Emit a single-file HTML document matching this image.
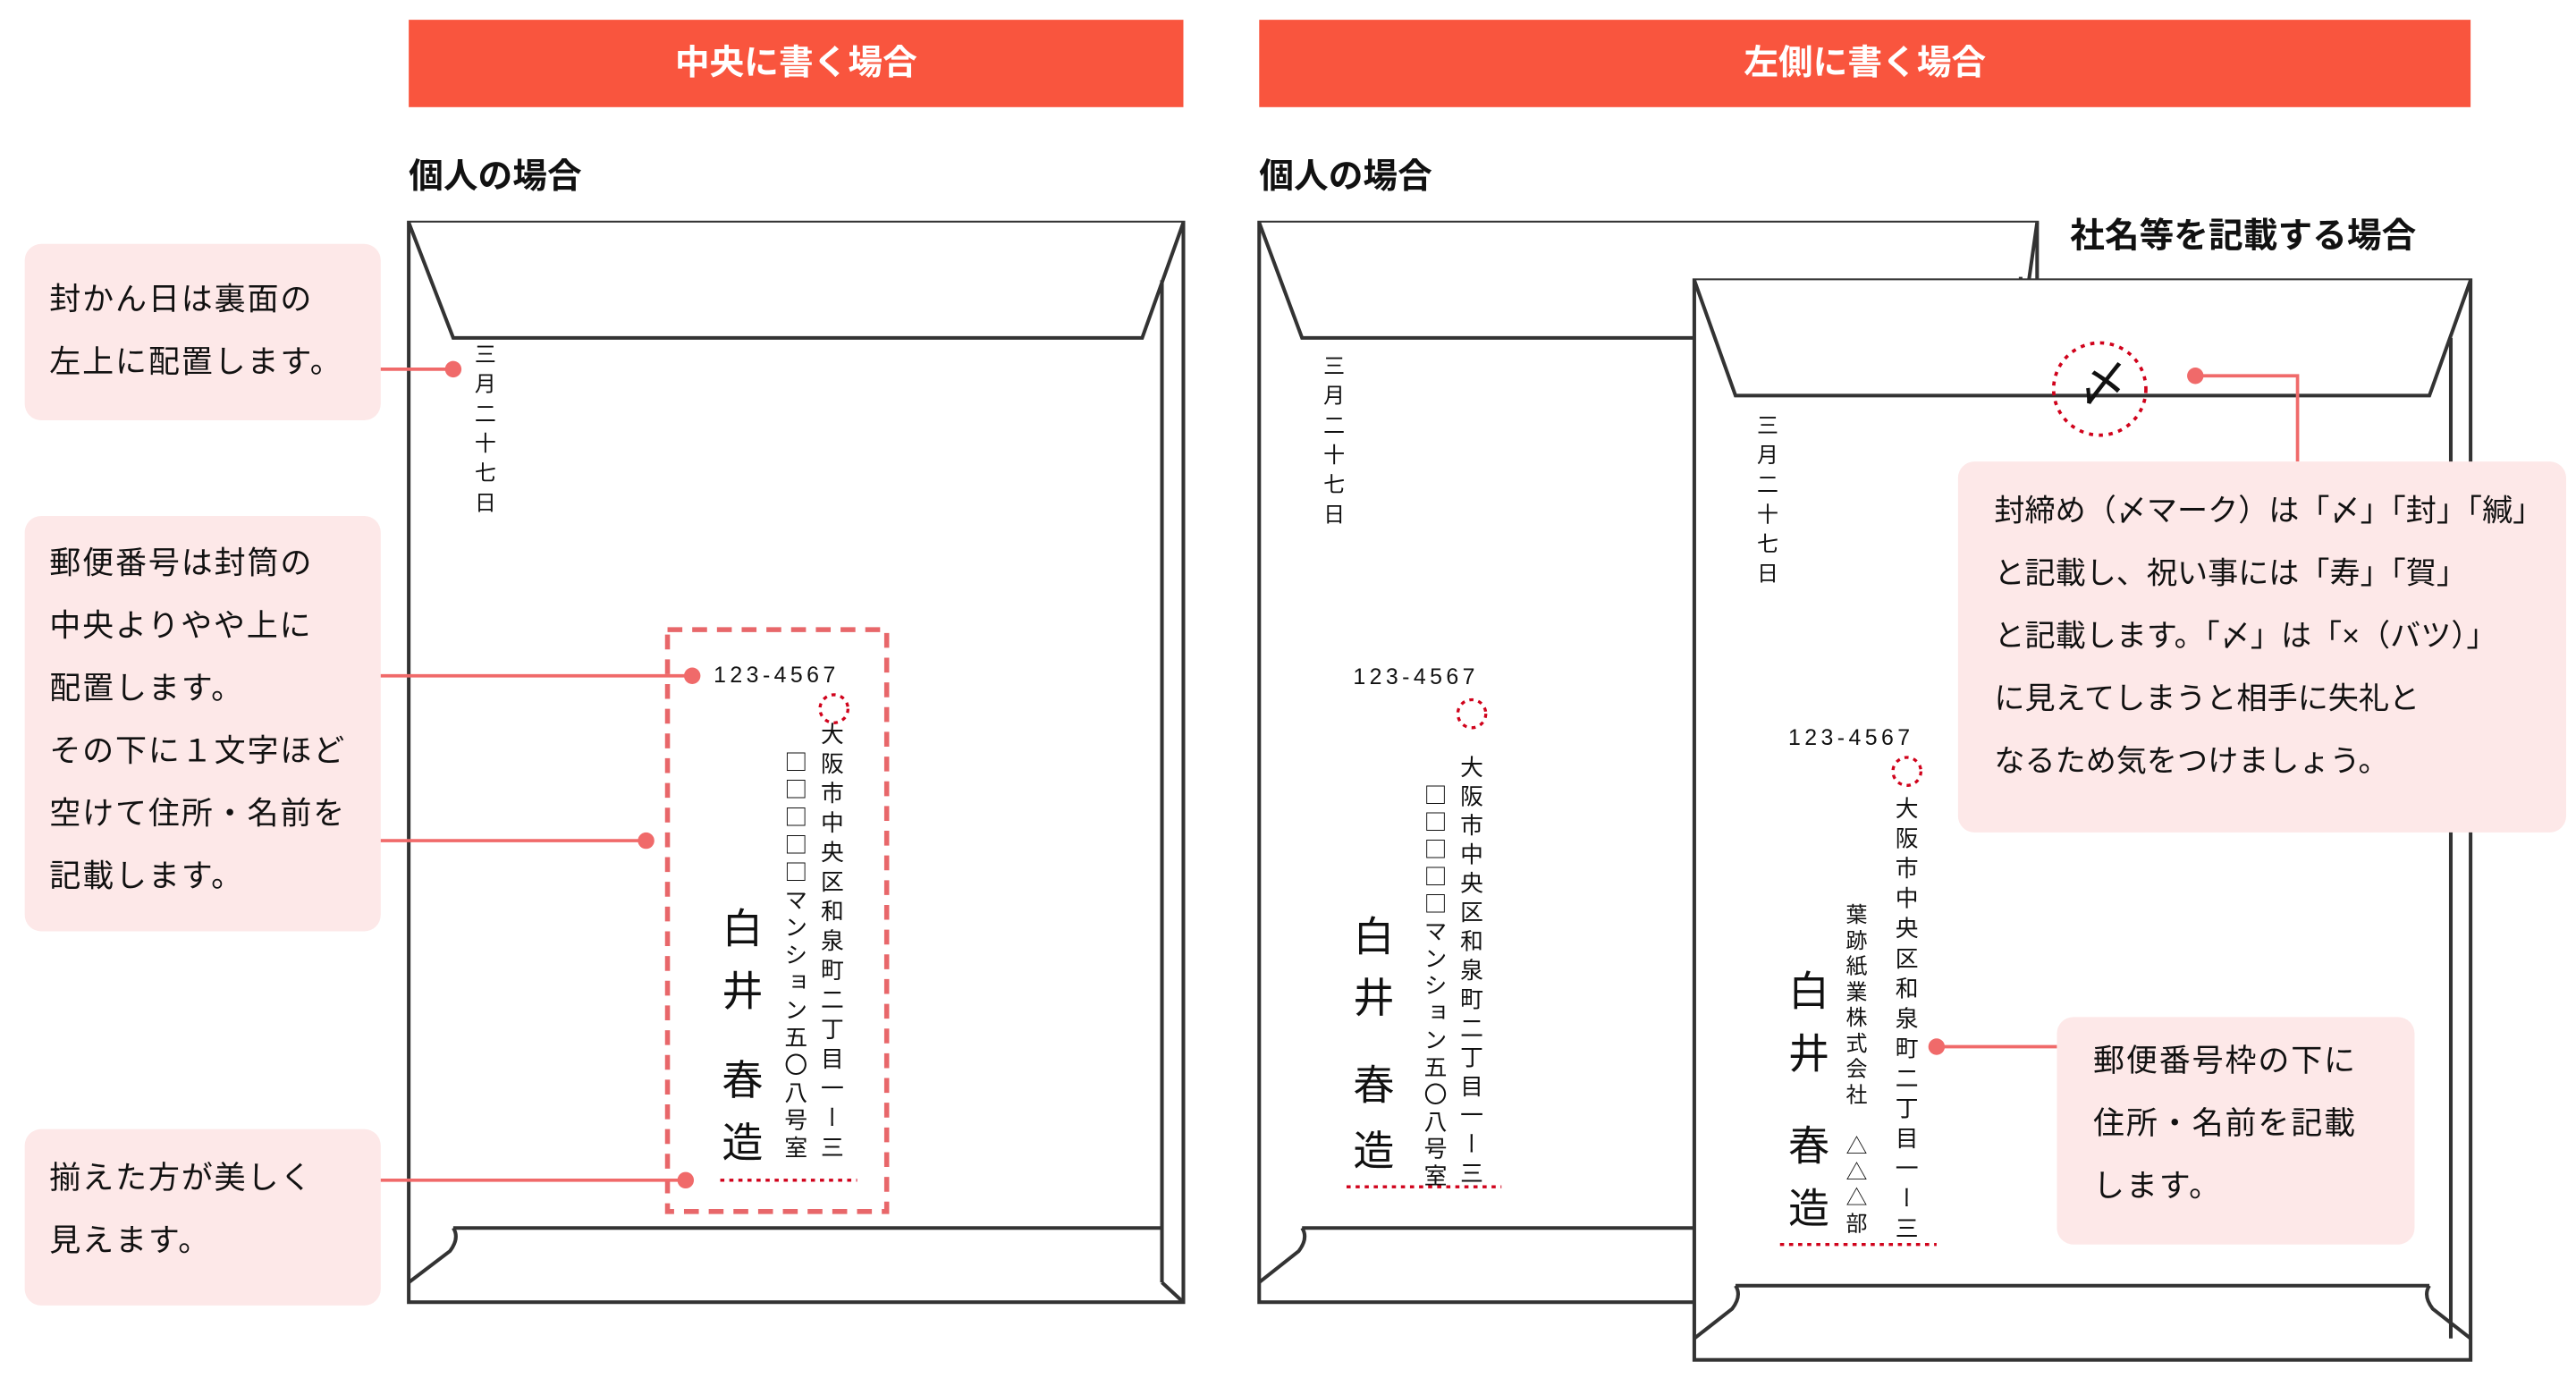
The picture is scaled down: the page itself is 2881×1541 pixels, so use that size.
<!DOCTYPE html>
<html><head><meta charset="utf-8">
<style>
html,body{margin:0;padding:0;background:#fff;}
body{width:2881px;height:1541px;overflow:hidden;position:relative;}
#w{position:absolute;left:0;top:0;width:1563px;height:836px;transform:scale(1.8433);transform-origin:0 0;font-family:"Liberation Sans","Noto Sans CJK JP",sans-serif;color:#111;}
.a{position:absolute;white-space:nowrap;}
.hd{position:absolute;background:#F9553E;color:#fff;font-weight:bold;font-size:21px;text-align:center;line-height:53px;height:53px;top:12px;}
.ttl{position:absolute;font-weight:bold;font-size:21px;line-height:24px;}
.box{position:absolute;background:#FDE8E8;border-radius:10px;}
.bt{position:absolute;font-size:19px;line-height:38px;letter-spacing:1px;white-space:nowrap;}
.v{position:absolute;writing-mode:vertical-rl;white-space:nowrap;line-height:1;font-family:"Noto Sans CJK JP",sans-serif;}
.pc{position:absolute;font-size:13.5px;letter-spacing:2.4px;line-height:1;white-space:nowrap;}
.nm{position:absolute;font-size:25px;line-height:1;}
svg{position:absolute;left:0;top:0;}
</style></head><body><div id="w">
<div class="hd" style="left:248px;width:470px;">中央に書く場合</div>
<div class="hd" style="left:764px;width:735px;">左側に書く場合</div>
<div class="ttl" style="left:248px;top:96px;">個人の場合</div>
<div class="ttl" style="left:764px;top:96px;">個人の場合</div>

<div class="box" style="left:15px;top:148px;width:216px;height:107px;"></div>
<div class="box" style="left:15px;top:313px;width:216px;height:252px;"></div>
<div class="box" style="left:15px;top:685px;width:216px;height:107px;"></div>
<div class="bt" style="left:30px;top:164px;">封かん日は裏面の<br>左上に配置します。</div>
<div class="bt" style="left:30px;top:324px;">郵便番号は封筒の<br>中央よりやや上に<br>配置します。<br>その下に１文字ほど<br>空けて住所・名前を<br>記載します。</div>
<div class="bt" style="left:30px;top:697px;">揃えた方が美しく<br>見えます。</div>

<svg width="1563" height="836" viewBox="0 0 1563 836">
<g fill="#fff" stroke="#333" stroke-width="2.2" stroke-linejoin="miter">
<rect x="248" y="135" width="470" height="655"/>
<path d="M248 135 L275 205 L693 205 L718 135" />
<path d="M705 170 L705 778" fill="none"/>
<path d="M275 745 L705 745 M275 745 q4 6 -2 14 L248 778" fill="none"/>
<path d="M705 778 L718 790" fill="none"/>
<rect x="764" y="135" width="472" height="655"/>
<path d="M764 135 L790 205 L1226 205 L1236 135" />
<path d="M1226 168 L1226 780" fill="none"/>
<path d="M790 745 L1226 745 M790 745 q4 6 -2 14 L764 778" fill="none"/>
<rect x="1028" y="170" width="471" height="655"/>
<path d="M1028 170 L1053 240 L1474 240 L1499 170" />
<path d="M1487 205 L1487 812" fill="none"/>
<path d="M1053 780 L1474 780 M1053 780 q4 6 -2 14 L1028 812 M1474 780 q-4 6 2 14 L1499 812" fill="none"/>
</g>
<rect x="405" y="382" width="133" height="353" fill="none" stroke="#E8676A" stroke-width="3" stroke-dasharray="9 6"/>
<g fill="none" stroke="#D0021B" stroke-width="1.8" stroke-dasharray="2.5 3">
<circle cx="506" cy="430" r="8.5"/>
<circle cx="893" cy="433" r="8.5"/>
<circle cx="1157" cy="468" r="8.5"/>
<path d="M437 716 L520 716 M817 720 L911 720 M1080 755 L1175 755"/>
</g>
<circle cx="1274" cy="236" r="28" fill="none" stroke="#D0021B" stroke-width="2" stroke-dasharray="2.5 3.5"/>
<g stroke="#F06A6A" stroke-width="2" fill="none">
<path d="M231 224 L275 224 M231 410 L420 410 M231 510 L392 510 M231 716 L416 716 M1332 228 L1394 228 L1394 280 M1175 635 L1248 635"/>
</g>
<g fill="#F06A6A">
<circle cx="275" cy="224" r="5"/><circle cx="420" cy="410" r="5"/><circle cx="392" cy="510" r="5"/><circle cx="416" cy="716" r="5"/><circle cx="1332" cy="228" r="5"/><circle cx="1175" cy="635" r="5"/>
</g>
</svg>

<div class="ttl" style="left:1256px;top:132px;">社名等を記載する場合</div>
<div class="a" style="left:1261px;top:219px;font-size:30px;line-height:1;">〆</div>

<div class="box" style="left:1188px;top:280px;width:369px;height:225px;"></div>
<div class="bt" style="left:1210px;top:291px;letter-spacing:0;font-size:18.5px;">封締め（〆マーク）は「〆」「封」「緘」<br>と記載し、祝い事には「寿」「賀」<br>と記載します。「〆」は「×（バツ）」<br>に見えてしまうと相手に失礼と<br>なるため気をつけましょう。</div>
<div class="box" style="left:1248px;top:617px;width:217px;height:138px;"></div>
<div class="bt" style="left:1270px;top:626px;">郵便番号枠の下に<br>住所・名前を記載<br>します。</div>

<div class="v" style="left:288px;top:208px;font-size:13px;letter-spacing:5px;">三月二十七日</div>
<div class="pc" style="left:433px;top:403px;">123-4567</div>
<div class="v" style="left:498px;top:438px;font-size:14px;letter-spacing:3.9px;">大阪市中央区和泉町二丁目一ー三</div>
<div class="v" style="left:476px;top:455px;font-size:14px;letter-spacing:2.7px;">□□□□□マンション五〇八号室</div>
<div class="nm" style="left:438px;top:552px;">白</div>
<div class="nm" style="left:438px;top:590px;">井</div>
<div class="nm" style="left:438px;top:644px;">春</div>
<div class="nm" style="left:438px;top:682px;">造</div>

<div class="v" style="left:803px;top:215px;font-size:13px;letter-spacing:5px;">三月二十七日</div>
<div class="pc" style="left:821px;top:404px;">123-4567</div>
<div class="v" style="left:886px;top:458px;font-size:14px;letter-spacing:3.6px;">大阪市中央区和泉町二丁目一ー三</div>
<div class="v" style="left:864px;top:475px;font-size:14px;letter-spacing:2.5px;">□□□□□マンション五〇八号室</div>
<div class="nm" style="left:821px;top:557px;">白</div>
<div class="nm" style="left:821px;top:594px;">井</div>
<div class="nm" style="left:821px;top:647px;">春</div>
<div class="nm" style="left:821px;top:687px;">造</div>

<div class="v" style="left:1066px;top:251px;font-size:13px;letter-spacing:5px;">三月二十七日</div>
<div class="pc" style="left:1085px;top:441px;">123-4567</div>
<div class="v" style="left:1150px;top:483px;font-size:14px;letter-spacing:4.2px;">大阪市中央区和泉町二丁目一ー三</div>
<div class="v" style="left:1120px;top:548px;font-size:13px;letter-spacing:2.6px;">葉跡紙業株式会社　△△△部</div>
<div class="nm" style="left:1085px;top:590px;">白</div>
<div class="nm" style="left:1085px;top:628px;">井</div>
<div class="nm" style="left:1085px;top:684px;">春</div>
<div class="nm" style="left:1085px;top:722px;">造</div>
</div></body></html>
